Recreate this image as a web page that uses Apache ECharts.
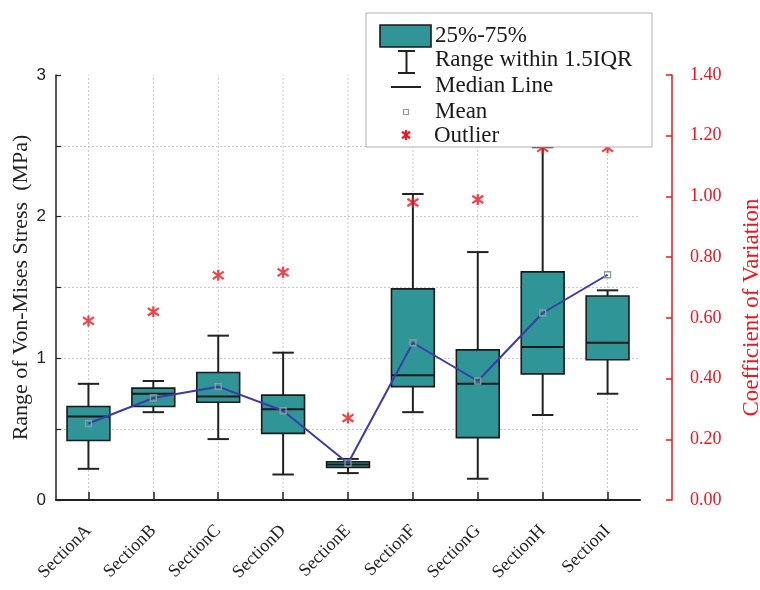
<!DOCTYPE html>
<html>
<head>
<meta charset="utf-8">
<script src="https://cdn.jsdelivr.net/npm/echarts@6/dist/echarts.min.js"></script>
<style>
html,body{margin:0;padding:0;background:#fff;}
#chart{width:760px;height:590px;}
</style>
</head>
<body>
<div id="chart"></div>
<script>
// ---- data ----
const categories = ['SectionA','SectionB','SectionC','SectionD','SectionE','SectionF','SectionG','SectionH','SectionI'];
const whiskerLow  = [0.22, 0.62, 0.43, 0.18, 0.19, 0.62, 0.15, 0.60, 0.75];
const q1          = [0.42, 0.66, 0.69, 0.47, 0.23, 0.80, 0.44, 0.89, 0.99];
const median      = [0.59, 0.75, 0.73, 0.64, 0.25, 0.88, 0.82, 1.08, 1.11];
const q3          = [0.66, 0.79, 0.90, 0.74, 0.27, 1.49, 1.06, 1.61, 1.44];
const whiskerHigh = [0.82, 0.84, 1.16, 1.04, 0.29, 2.16, 1.75, 2.49, 1.48];
const means       = [0.54, 0.72, 0.80, 0.63, 0.26, 1.11, 0.84, 1.32, 1.59];
const cv          = [0.59, 0.62, 0.74, 0.75, 0.27, 0.98, 0.99, 1.16, 1.16];
const leftTicks   = {min: 0, max: 3, interval: 0.5};
const rightTicks  = {min: 0, max: 1.4, interval: 0.2};

const TEAL = '#2f9596';
const RED = '#f0141e';
const LINE = '#3b3bab';
const SERIF = '"Liberation Serif", "Times New Roman", serif';
const SANS = '"Liberation Sans", Arial, sans-serif';
const STAR = 'path://M5 0L5 10M1 1.6L9 8.4M9 1.6L1 8.4';

const boxData = categories.map((c, i) => [i, whiskerLow[i], q1[i], median[i], q3[i], whiskerHigh[i]]);

function renderBox(params, api) {
  const x = api.value(0);
  const pLow = api.coord([x, api.value(1)]);
  const pQ1 = api.coord([x, api.value(2)]);
  const pMed = api.coord([x, api.value(3)]);
  const pQ3 = api.coord([x, api.value(4)]);
  const pHigh = api.coord([x, api.value(5)]);
  const band = api.size([1, 0])[0];
  const bw = band * 0.66;
  const cw = band * 0.33;
  const cx = pMed[0];
  const wStyle = {stroke: '#222', lineWidth: 2};
  return {
    type: 'group',
    children: [
      {type: 'line', shape: {x1: cx, y1: pQ3[1], x2: cx, y2: pHigh[1]}, style: wStyle},
      {type: 'line', shape: {x1: cx - cw / 2, y1: pHigh[1], x2: cx + cw / 2, y2: pHigh[1]}, style: wStyle},
      {type: 'line', shape: {x1: cx, y1: pQ1[1], x2: cx, y2: pLow[1]}, style: wStyle},
      {type: 'line', shape: {x1: cx - cw / 2, y1: pLow[1], x2: cx + cw / 2, y2: pLow[1]}, style: wStyle},
      {type: 'rect', shape: {x: cx - bw / 2, y: pQ3[1], width: bw, height: pQ1[1] - pQ3[1]},
        style: {fill: TEAL, stroke: '#1a1a1a', lineWidth: 1.6}},
      {type: 'line', shape: {x1: cx - bw / 2, y1: pMed[1], x2: cx + bw / 2, y2: pMed[1]}, style: {stroke: '#1a1a1a', lineWidth: 2}}
    ]
  };
}

function renderVGrid(params, api) {
  const x = api.value(0);
  const p0 = api.coord([x, leftTicks.min]);
  const p1 = api.coord([x, leftTicks.max]);
  return {type: 'line', shape: {x1: p0[0], y1: p0[1], x2: p1[0], y2: p1[1]},
    style: {stroke: '#c8c8c8', lineWidth: 1, lineDash: [2, 2]}};
}

const chart = echarts.init(document.getElementById('chart'), null, {renderer: 'canvas'});

const legendX = 366, legendY = 13;
const legendFont = '23px ' + SERIF;
const starStyle = {stroke: RED, lineWidth: 2.2};
const sx = 406, sy = 135;

const option = {
  backgroundColor: '#fff',
  animation: false,
  grid: {left: 56, right: 120, top: 75, bottom: 90, containLabel: false, outerBoundsMode: 'none'},
  xAxis: {
    type: 'category',
    data: categories,
    boundaryGap: true,
    axisLine: {show: true, lineStyle: {color: '#222', width: 2}},
    axisTick: {show: true, inside: true, alignWithLabel: true, length: 8, lineStyle: {color: '#222', width: 1.5}},
    axisLabel: {rotate: 45, margin: 28, color: '#222', fontFamily: SERIF, fontSize: 18, interval: 0},
    splitLine: {show: false}
  },
  yAxis: [
    {
      type: 'value',
      min: leftTicks.min, max: leftTicks.max, interval: leftTicks.interval,
      name: 'Range of Von-Mises Stress  (MPa)',
      nameLocation: 'middle', nameRotate: 90, nameGap: 24, nameMoveOverlap: false,
      nameTextStyle: {fontFamily: SERIF, fontSize: 22, color: '#222'},
      axisLine: {show: true, lineStyle: {color: '#222', width: 1.5}},
      axisTick: {show: true, inside: true, length: 5, lineStyle: {color: '#222', width: 1.2}},
      axisLabel: {color: '#222', fontFamily: SANS, fontSize: 17, margin: 10,
        formatter: v => (Math.abs(v - Math.round(v)) < 1e-6 ? String(Math.round(v)) : '')},
      splitLine: {show: true, showMaxLine: false, showMinLine: false, lineStyle: {color: '#c8c8c8', type: [2, 2], width: 1}}
    },
    {
      type: 'value',
      position: 'right', offset: 32,
      min: rightTicks.min, max: rightTicks.max, interval: rightTicks.interval,
      name: 'Coefficient of Variation',
      nameLocation: 'middle', nameRotate: 90, nameGap: 68, nameMoveOverlap: false,
      nameTextStyle: {fontFamily: SERIF, fontSize: 23, color: RED, padding: [0, 40, 0, 0]},
      axisLine: {show: true, lineStyle: {color: RED, width: 1.5}},
      axisTick: {show: true, inside: true, length: 6, lineStyle: {color: RED, width: 1.5}},
      axisLabel: {color: RED, fontFamily: SERIF, fontSize: 18, margin: 18, formatter: v => v.toFixed(2)},
      splitLine: {show: false}
    }
  ],
  series: [
    {
      type: 'custom', name: 'vgrid', renderItem: renderVGrid, data: categories.map((c, i) => [i]),
      z: 0, silent: true, encode: {x: 0}
    },
    {
      type: 'custom', name: '25%-75%', renderItem: renderBox, data: boxData, z: 2,
      encode: {x: 0, y: [1, 2, 3, 4, 5]}
    },
    {
      type: 'line', name: 'Mean', data: means, yAxisIndex: 0, z: 3,
      symbol: 'rect', symbolSize: 6,
      lineStyle: {color: LINE, width: 2},
      itemStyle: {color: 'rgba(255,255,255,0)', borderColor: '#8a9e9e', borderWidth: 1.3}
    },
    {
      type: 'scatter', name: 'Outlier', data: cv, yAxisIndex: 1, z: 4,
      symbol: STAR, symbolSize: 11,
      itemStyle: {color: 'rgba(0,0,0,0)', borderColor: RED, borderWidth: 2.2}
    }
  ],
  graphic: [
    {type: 'rect', z: 100, shape: {x: legendX, y: legendY, width: 286, height: 134},
      style: {fill: '#fff', stroke: '#b0b0b0', lineWidth: 1}},
    {type: 'rect', z: 101, shape: {x: 380, y: 25, width: 51, height: 22},
      style: {fill: TEAL, stroke: '#1a1a1a', lineWidth: 1.6}},
    {type: 'text', z: 101, x: 435, y: 36, style: {text: '25%-75%', font: legendFont, fill: '#1a1a1a', verticalAlign: 'middle'}},
    {type: 'line', z: 101, shape: {x1: 398, y1: 51, x2: 415, y2: 51}, style: {stroke: '#222', lineWidth: 2}},
    {type: 'line', z: 101, shape: {x1: 406.5, y1: 51, x2: 406.5, y2: 73}, style: {stroke: '#222', lineWidth: 2}},
    {type: 'line', z: 101, shape: {x1: 398, y1: 73, x2: 415, y2: 73}, style: {stroke: '#222', lineWidth: 2}},
    {type: 'text', z: 101, x: 435, y: 60, style: {text: 'Range within 1.5IQR', font: legendFont, fill: '#1a1a1a', verticalAlign: 'middle'}},
    {type: 'line', z: 101, shape: {x1: 391, y1: 87, x2: 421, y2: 87}, style: {stroke: '#222', lineWidth: 2}},
    {type: 'text', z: 101, x: 435, y: 86, style: {text: 'Median Line', font: legendFont, fill: '#1a1a1a', verticalAlign: 'middle'}},
    {type: 'rect', z: 101, shape: {x: 403.5, y: 109.5, width: 5, height: 5}, style: {fill: '#fff', stroke: '#999', lineWidth: 1.2}},
    {type: 'text', z: 101, x: 435, y: 112, style: {text: 'Mean', font: legendFont, fill: '#1a1a1a', verticalAlign: 'middle'}},
    {type: 'line', z: 101, shape: {x1: sx, y1: sy - 5, x2: sx, y2: sy + 5}, style: starStyle},
    {type: 'line', z: 101, shape: {x1: sx - 4, y1: sy - 3.4, x2: sx + 4, y2: sy + 3.4}, style: starStyle},
    {type: 'line', z: 101, shape: {x1: sx + 4, y1: sy - 3.4, x2: sx - 4, y2: sy + 3.4}, style: starStyle},
    {type: 'text', z: 101, x: 434, y: 136, style: {text: 'Outlier', font: legendFont, fill: '#1a1a1a', verticalAlign: 'middle'}}
  ]
};

chart.setOption(option);
</script>
</body>
</html>
